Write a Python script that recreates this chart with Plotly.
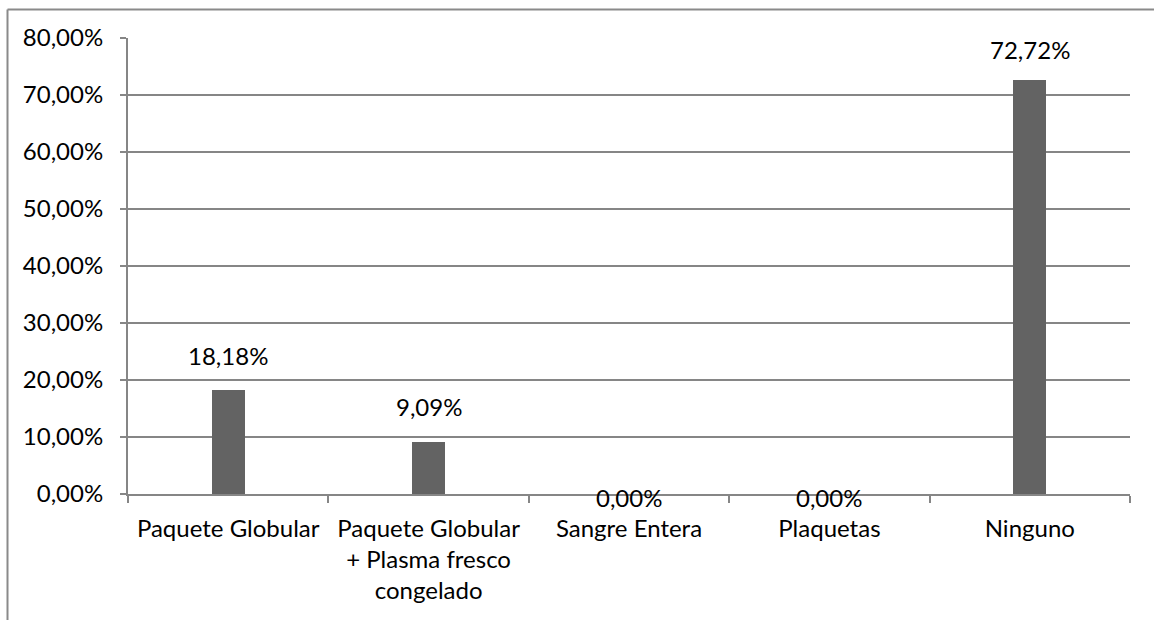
import plotly.graph_objects as go

# Transfusion type distribution
categories = [
    "Paquete Globular",
    "Paquete Globular<br>+ Plasma fresco<br>congelado",
    "Sangre Entera",
    "Plaquetas",
    "Ninguno",
]
percentages = [18.18, 9.09, 0.00, 0.00, 72.72]
y_ticks = [0, 10, 20, 30, 40, 50, 60, 70, 80]
y_tick_labels = ["0,00%", "10,00%", "20,00%", "30,00%", "40,00%",
                 "50,00%", "60,00%", "70,00%", "80,00%"]

# vertical offset (px) of each value label relative to its bar top
label_dy = [35, 36, -3, -3, 30]

FONT = "Lato"
FS = 24
GRID = "#868686"

fig = go.Figure()
fig.add_trace(go.Bar(
    x=categories,
    y=percentages,
    width=0.165,
    marker=dict(color="#636363", line=dict(width=0)),
    hoverinfo="skip",
))

for cat, val, dy in zip(categories, percentages, label_dy):
    fig.add_annotation(
        x=cat, y=val, xref="x", yref="y",
        text=f"{val:.2f}".replace(".", ",") + "%",
        showarrow=False, yanchor="middle", yshift=dy,
        font=dict(family=FONT, size=FS, color="#000000"),
    )

# plot-area geometry in px, used to place the outer chart frame
L, R, T, B = 128, 1130, 38, 494
W, H = 1154, 620
pw, ph = R - L, B - T


def px_x(v):
    return (v - L) / pw


def px_y(v):
    return (B - v) / ph


frame = dict(color="#8a8a8a", width=2)
# top and left edges of the chart frame
fig.add_shape(type="line", xref="paper", yref="paper",
              x0=px_x(7.5), x1=px_x(W), y0=px_y(9.5), y1=px_y(9.5), line=frame)
fig.add_shape(type="line", xref="paper", yref="paper",
              x0=px_x(7.5), x1=px_x(7.5), y0=px_y(9.5), y1=px_y(H), line=frame)

fig.update_layout(
    width=W, height=H,
    margin=dict(l=L, r=W - R, t=T, b=H - B),
    paper_bgcolor="white", plot_bgcolor="white",
    showlegend=False,
    font=dict(family=FONT, size=FS, color="#000000"),
    bargap=0,
)
fig.update_xaxes(
    type="category",
    showline=True, linecolor=GRID, linewidth=2,
    ticks="outside", ticklen=7, tickcolor=GRID, tickwidth=2,
    tickson="boundaries",
    showgrid=False,
    tickfont=dict(family=FONT, size=FS, color="#000000"),
    ticklabelstandoff=12,
    fixedrange=True,
)
fig.update_yaxes(
    range=[0, 80],
    tickvals=y_ticks, ticktext=y_tick_labels,
    showline=True, linecolor=GRID, linewidth=2,
    ticks="outside", ticklen=6, tickcolor=GRID, tickwidth=2,
    showgrid=True, gridcolor=GRID, gridwidth=2,
    zeroline=False,
    tickfont=dict(family=FONT, size=FS, color="#000000"),
    ticklabelstandoff=12,
    fixedrange=True,
)

fig.write_html("out.html", config={"displayModeBar": False})
